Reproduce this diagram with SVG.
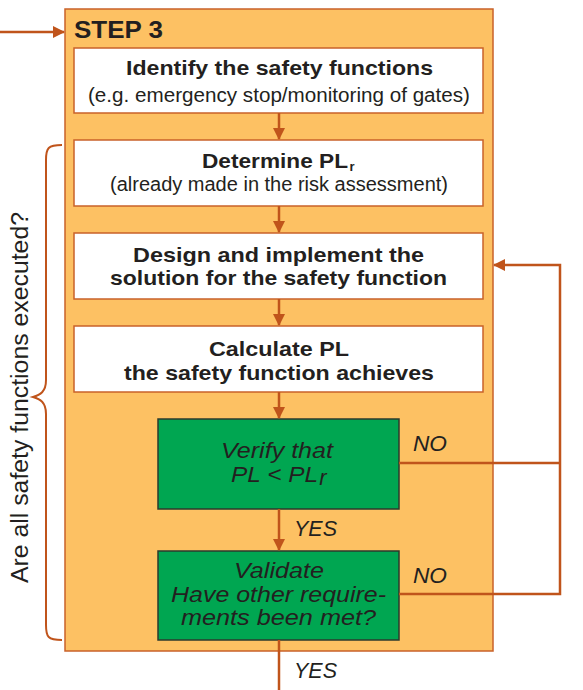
<svg xmlns="http://www.w3.org/2000/svg" width="583" height="690" viewBox="0 0 583 690">
<defs>
<marker id="ah" markerWidth="12" markerHeight="12" refX="11" refY="6" orient="auto" markerUnits="userSpaceOnUse">
<path d="M0,0 L12,6 L0,12 Z" fill="#C0541B"/>
</marker>
<style>
.box{fill:#fff;stroke:#C9622A;stroke-width:1.5}
.green{fill:#00A651;stroke:#2B3A2E;stroke-width:1.5}
.c{fill:none;stroke:#C0541B;stroke-width:2.5}
.t{font-family:"Liberation Sans",Arial,sans-serif;fill:#231F20;text-anchor:middle}
.b{font-weight:bold;font-size:21px}
.r{font-size:19.5px}
.i{font-style:italic;font-size:22px}
</style>
</defs>
<rect width="583" height="690" fill="#fff"/>
<g id="step3">
<rect x="65" y="9" width="428" height="642" fill="#FDC163" stroke="#C9622A" stroke-width="1.5"/>
<text class="t b" x="74" y="38" style="text-anchor:start;font-size:24px" textLength="89" lengthAdjust="spacingAndGlyphs">STEP 3</text>
</g>
<g id="identify">
<rect class="box" x="74" y="48" width="409" height="65"/>
<text class="t b" x="279.5" y="75" textLength="307" lengthAdjust="spacingAndGlyphs">Identify the safety functions</text>
<text class="t r" x="279" y="102" textLength="382" lengthAdjust="spacingAndGlyphs">(e.g. emergency stop/monitoring of gates)</text>
</g>
<g id="determine">
<rect class="box" x="74" y="140" width="409" height="66"/>
<text class="t b" x="275" y="168" textLength="146" lengthAdjust="spacingAndGlyphs">Determine PL</text><text class="t" x="352" y="171" font-size="13" font-weight="bold">r</text>
<text class="t r" x="279" y="191" textLength="338" lengthAdjust="spacingAndGlyphs">(already made in the risk assessment)</text>
</g>
<g id="design">
<rect class="box" x="74" y="233" width="409" height="66"/>
<text class="t b" x="278.5" y="262" textLength="291" lengthAdjust="spacingAndGlyphs">Design and implement the</text>
<text class="t b" x="278.5" y="285" textLength="337" lengthAdjust="spacingAndGlyphs">solution for the safety function</text>
</g>
<g id="calculate">
<rect class="box" x="74" y="326" width="409" height="66"/>
<text class="t b" x="279" y="356" textLength="140" lengthAdjust="spacingAndGlyphs">Calculate PL</text>
<text class="t b" x="279" y="380" textLength="310" lengthAdjust="spacingAndGlyphs">the safety function achieves</text>
</g>
<g id="verify">
<rect class="green" x="158" y="419" width="241" height="90"/>
<text class="t i" x="277" y="458" textLength="112" lengthAdjust="spacingAndGlyphs">Verify that</text>
<text class="t i" x="274.5" y="482" textLength="87" lengthAdjust="spacingAndGlyphs">PL &lt; PL</text><text class="t i" x="323" y="485" font-size="13">r</text>
</g>
<g id="validate">
<rect class="green" x="158" y="551" width="241" height="89"/>
<text class="t i" x="279" y="578" textLength="90" lengthAdjust="spacingAndGlyphs">Validate</text>
<text class="t i" x="278.5" y="602" textLength="215" lengthAdjust="spacingAndGlyphs">Have other require-</text>
<text class="t i" x="278.5" y="625" textLength="195" lengthAdjust="spacingAndGlyphs">ments been met?</text>
</g>
<g id="connectors">
<path class="c" d="M0,32 H64" marker-end="url(#ah)"/>
<path class="c" d="M279,113 V139" marker-end="url(#ah)"/>
<path class="c" d="M279,206 V232" marker-end="url(#ah)"/>
<path class="c" d="M279,299 V325" marker-end="url(#ah)"/>
<path class="c" d="M279,392 V418" marker-end="url(#ah)"/>
<path class="c" d="M279,509 V550" marker-end="url(#ah)"/>
<path class="c" d="M279,640 V690"/>
<path class="c" d="M399,463 H560"/>
<path class="c" d="M399,594 H560 V265 H494" marker-end="url(#ah)"/>
<path fill="none" stroke="#C0541B" stroke-width="2" d="M62,145 C48,145 46,148 46,160 V380 C46,392 40,395 33,397 C40,399 46,402 46,414 V625 C46,637 48,640 62,640"/>
</g>
<g id="labels">
<text class="t i" x="430" y="451" textLength="34" lengthAdjust="spacingAndGlyphs">NO</text>
<text class="t i" x="430" y="583" textLength="34" lengthAdjust="spacingAndGlyphs">NO</text>
<text class="t i" x="315.5" y="536" textLength="43" lengthAdjust="spacingAndGlyphs">YES</text>
<text class="t i" x="315.5" y="678" textLength="43" lengthAdjust="spacingAndGlyphs">YES</text>
<text class="t" font-size="23" transform="translate(28,397.5) rotate(-90)" textLength="371" lengthAdjust="spacingAndGlyphs">Are all safety functions executed?</text>
</g>
</svg>
